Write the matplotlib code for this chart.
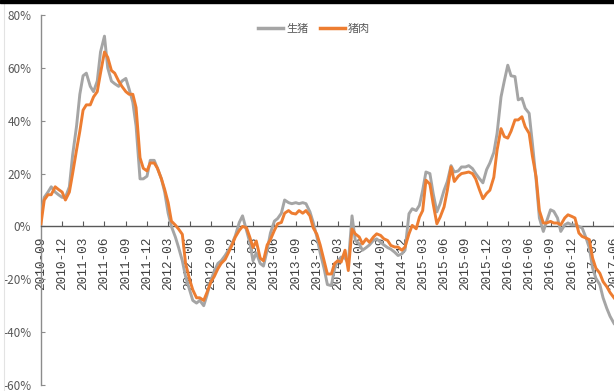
import matplotlib
matplotlib.use("Agg")
import matplotlib.pyplot as plt
import matplotlib.patches as mpatches
import matplotlib.lines as mlines
import pandas as pd

# ---- data (semi-monthly readings, % YoY) ----
start_date = "2010-09-01"
live_hog = [  # 生猪
    5, 11, 13, 15, 13, 12, 11, 11, 15, 27, 38, 50, 57, 58, 53, 51, 55, 66, 72, 60,
    55, 54, 53, 55, 56, 52, 47, 38, 18, 18, 19, 25, 25, 22, 18, 13, 5, 0, -4, -8,
    -13, -19, -24, -28, -29, -28, -30, -26, -20.5, -17, -14, -13, -11, -9, -6.5, -3.5, 1.5, 4, -1.5, -6,
    -13, -10, -14, -15, -9, -2.5, 2, 3, 5, 10, 9, 8.6, 9, 8.6, 9, 8.6, 5.5, 1.5, -4, -10,
    -16, -22, -22.4, -16, -13, -11.6, -12, -14, 4, -5.3, -6.6, -9, -8, -7, -5.3, -4.7, -6, -7, -8, -8.6,
    -9.8, -11, -10.4, -9, 4.8, 6.7, 6, 8, 13.7, 20.6, 20, 12.5, 5.5, 8.6, 13.7, 17, 23, 20.6, 21, 22.5,
    22.5, 23, 21.9, 20, 18, 16.5, 21.5, 24, 28, 35.2, 49, 55, 61, 57, 56.7, 47.9, 48.5, 44.7, 42.8, 31.4,
    17.5, 3.2, -1.9, 1.9, 6.3, 5.7, 3.2, -1.9, 0.6, 1.3, 0.6, 0.6, 0, -0.6, -4.4, -8.2, -15.8, -19.6, -22, -27,
    -31, -34, -36.7,
]
pork = [  # 猪肉
    1, 10, 12, 12, 15, 14, 13, 10, 13, 20, 29, 36, 44, 46, 46, 49, 51, 58, 66, 64,
    59, 58, 55, 53, 51, 50, 50, 45, 26, 22, 21, 24, 24, 22, 18, 14, 9, 2, 0.5, -1,
    -3, -14, -20, -24, -27, -27, -28, -25, -21, -19, -16, -14, -12.5, -10, -7, -4, -1.5, 0, -0.5, -4,
    -8, -5.5, -12, -13, -7, -5, -1.5, 1, 1.5, 5, 6, 5, 4.7, 6, 5, 6, 4, -0.5, -3, -7,
    -13, -18, -18, -14, -13, -13.5, -9, -16.7, -1, -2.8, -4, -6.6, -4.7, -6, -4, -2.8, -3.4, -4.7, -5.3, -7.2,
    -7.8, -7.8, -9, -7.8, -2.8, 0.4, -0.9, 3.5, 6, 17.5, 16, 8.6, 1, 3.5, 7.4, 13.7, 22.5, 17, 19, 20,
    20.3, 20.6, 20, 18, 13.7, 10.5, 12.5, 13.7, 18.6, 28.9, 37, 34, 33.4, 36, 40.3, 40.3, 41.5, 37.7, 35.2, 26.6,
    18.8, 6, 1.3, 1.3, 1.9, 1.3, 1.3, 0.6, 3.2, 4.4, 3.8, 3.2, -2.5, -3.8, -4.4, -5, -12, -15.8, -17.7, -20.9,
    -22.8, -25, -27,
]
series_names = ["生猪", "猪肉"]
tick_labels = [
    "2010-09", "2010-12", "2011-03", "2011-06", "2011-09", "2011-12", "2012-03",
    "2012-06", "2012-09", "2012-12", "2013-03", "2013-06", "2013-09", "2013-12",
    "2014-03", "2014-06", "2014-09", "2014-12", "2015-03", "2015-06", "2015-09",
    "2015-12", "2016-03", "2016-06", "2016-09", "2016-12", "2017-03", "2017-06",
]
y_ticks = [-60, -40, -20, 0, 20, 40, 60, 80]

plt.rcParams["font.family"] = ["Noto Sans CJK SC", "DejaVu Sans"]

W, H = 614, 391
fig = plt.figure(figsize=(W / 100, H / 100), dpi=100)
ax = fig.add_axes([41 / W, 6 / H, (614 - 41) / W, 370 / H])
ax.set_axisbelow(True)

dates_g = pd.date_range(start_date, periods=len(live_hog), freq="SMS")
dates_p = pd.date_range(start_date, periods=len(pork), freq="SMS")

gray_c = "#A5A5A5"
orange_c = "#ED7D31"
ax.plot(dates_g, live_hog, color=gray_c, lw=2.1, label=series_names[0], solid_joinstyle="round")
ax.plot(dates_p, pork, color=orange_c, lw=2.1, label=series_names[1], solid_joinstyle="round")

ax.set_ylim(-60, 80)
ax.set_xlim(pd.Timestamp("2010-09-01"), pd.Timestamp("2017-06-01"))

ax.set_yticks(y_ticks)
ax.set_yticklabels([f"{v}%" for v in y_ticks])
tick_pos = pd.to_datetime(tick_labels, format="%Y-%m")
ax.set_xticks(tick_pos)
ax.set_xticklabels(tick_labels)

ax.spines["top"].set_visible(False)
ax.spines["right"].set_visible(False)
ax.spines["left"].set_color("#8C8C8C")
ax.spines["left"].set_linewidth(1.0)
ax.spines["bottom"].set_position(("data", 0))
ax.spines["bottom"].set_color("#595959")
ax.spines["bottom"].set_linewidth(1.0)
for sp in ax.spines.values():
    sp.set_zorder(0.6)

ax.tick_params(axis="x", direction="in", length=3.5, width=0.8, color="#595959", pad=7.5,
               labelrotation=90, labelsize=9.2, labelcolor="#404040",
               labelfontfamily="Liberation Mono")
ax.tick_params(axis="y", direction="in", length=3, width=0.8, color="#8C8C8C", pad=7,
               labelsize=8.5, labelcolor="#595959")

leg = fig.legend(loc="center", bbox_to_anchor=(314 / W, 1 - 29 / H), ncol=2, frameon=False,
                 fontsize=8, handlelength=2.3, handletextpad=0.25, columnspacing=1.0,
                 borderaxespad=0, borderpad=0)
for t in leg.get_texts():
    t.set_color("#595959")
for l in leg.get_lines():
    l.set_linewidth(2.5)

# top border bar and faint left edge line
fig.patches.append(mpatches.Rectangle((0, 1 - 3 / H), 1, 3 / H, transform=fig.transFigure,
                                      color="black", zorder=10))
fig.add_artist(mlines.Line2D([3.5 / W, 3.5 / W], [0, 1 - 3 / H], transform=fig.transFigure,
                             color="#E3E3E3", lw=0.8))

fig.savefig("out.png", dpi=100)
